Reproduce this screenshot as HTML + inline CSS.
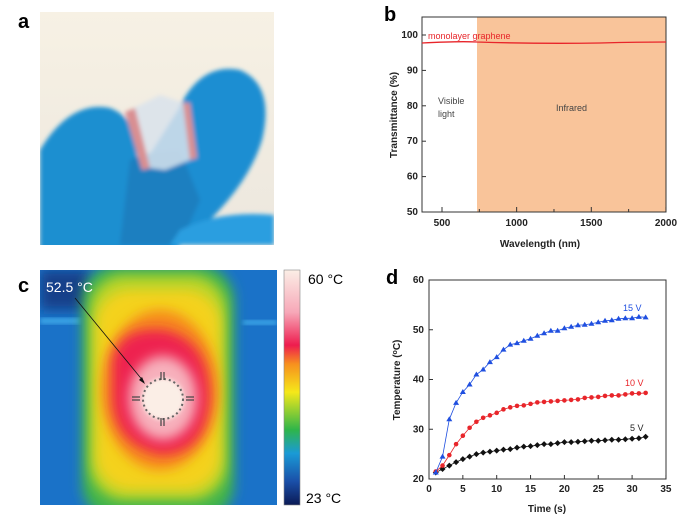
<!DOCTYPE html>
<html><head><meta charset="utf-8"><style>
html,body{margin:0;padding:0;background:#fff;width:688px;height:527px;overflow:hidden}
svg{display:block;font-family:"Liberation Sans",Arial,sans-serif}
</style></head><body>
<svg id="s" width="688" height="527" viewBox="0 0 688 527" xmlns="http://www.w3.org/2000/svg">
<defs>
<filter id="bl" x="-20%" y="-20%" width="140%" height="140%"><feGaussianBlur stdDeviation="6"/></filter>
<filter id="bl2"><feGaussianBlur stdDeviation="2"/></filter>
<clipPath id="ca"><rect x="40" y="12" width="234" height="233"/></clipPath>
<clipPath id="cc"><rect x="40" y="270" width="237" height="235"/></clipPath>
<linearGradient id="cb" x1="0" y1="0" x2="0" y2="1">
<stop offset="0" stop-color="#fbeee6"/><stop offset="0.18" stop-color="#f7a8b8"/><stop offset="0.32" stop-color="#ee1c4e"/>
<stop offset="0.4" stop-color="#f7901e"/><stop offset="0.52" stop-color="#f5e81a"/><stop offset="0.68" stop-color="#2fb54a"/>
<stop offset="0.78" stop-color="#1a9ad6"/><stop offset="0.9" stop-color="#1a4fa8"/><stop offset="1" stop-color="#0b1a55"/></linearGradient>
<linearGradient id="bg" x1="0" y1="0" x2="0" y2="1"><stop offset="0" stop-color="#f7f1e4"/><stop offset="1" stop-color="#ece7de"/></linearGradient>
</defs>
<text x="18" y="28" font-size="20" font-weight="bold">a</text>
<text x="18" y="292" font-size="20" font-weight="bold">c</text>
<text x="384" y="21" font-size="20" font-weight="bold">b</text>
<text x="386" y="284" font-size="20" font-weight="bold">d</text>
<g clip-path="url(#ca)">
<rect x="40" y="12" width="234" height="233" fill="url(#bg)"/>
<g filter="url(#bl2)">
<path d="M40 150 Q70 100 110 108 Q130 115 135 140 L150 250 L40 250 Z" fill="#1f8fd0"/>
<path d="M178 110 Q200 62 240 70 Q275 85 262 140 Q250 180 210 220 L175 250 L120 250 L140 170 Z" fill="#1b8ed2"/>
<path d="M130 160 Q150 150 180 150 L200 200 L180 245 L120 245 Z" fill="#1a7fc0"/>
<path d="M180 230 Q220 210 274 215 L274 245 L170 245 Z" fill="#2a9ee0"/>
<path d="M130 110 L160 95 L190 105 L195 158 L165 170 L150 168 Z" fill="#d9e3ec" opacity="0.85"/>
<path d="M125 112 L135 108 L150 168 L142 170 Z" fill="#d98f92"/>
<path d="M183 103 L190 103 L197 158 L190 160 Z" fill="#d98f92"/>
</g>
</g>
<g clip-path="url(#cc)">
<rect x="40" y="270" width="237" height="235" fill="#1a72c8"/>
<rect x="40" y="270" width="50" height="40" fill="#123f8a" filter="url(#bl)"/>
<rect x="40" y="318" width="40" height="6" fill="#3aa4e6" filter="url(#bl2)"/>
<rect x="243" y="320" width="34" height="5" fill="#3aa4e6" filter="url(#bl2)"/>
<rect x="82" y="265" width="152" height="255" rx="35" fill="#3fb44c" filter="url(#bl)"/>
<rect x="90" y="275" width="136" height="225" rx="35" fill="#b8d42a" filter="url(#bl)"/>
<rect x="96" y="290" width="124" height="200" rx="35" fill="#f4d21a" filter="url(#bl)"/>
<ellipse cx="160" cy="390" rx="58" ry="80" fill="#f68a1e" filter="url(#bl)"/>
<path d="M112 360 Q120 325 165 330 Q210 340 210 400 Q205 455 160 455 Q115 445 112 400 Z" fill="#ee2450" filter="url(#bl)"/>
<ellipse cx="163" cy="398" rx="34" ry="42" fill="#f7b0bc" filter="url(#bl)"/>
<circle cx="163" cy="399" r="21" fill="#fbeee6" filter="url(#bl2)"/>
<circle cx="163" cy="399" r="20" fill="none" stroke="#666" stroke-width="2" stroke-dasharray="2 3"/>
<g stroke="#444" stroke-width="1.2"><line x1="161" y1="372" x2="161" y2="380"/><line x1="164" y1="372" x2="164" y2="380"/><line x1="161" y1="418" x2="161" y2="426"/><line x1="164" y1="418" x2="164" y2="426"/><line x1="132" y1="397" x2="140" y2="397"/><line x1="132" y1="400" x2="140" y2="400"/><line x1="186" y1="397" x2="194" y2="397"/><line x1="186" y1="400" x2="194" y2="400"/></g>
<line x1="75" y1="298" x2="144" y2="382" stroke="#111" stroke-width="0.8"/>
<path d="M145 384 L139 380 L142 377 Z" fill="#111"/>
<text x="46" y="292" font-size="14" fill="#fff">52.5 °C</text>
</g>
<rect x="284" y="270" width="16" height="235" fill="url(#cb)" stroke="#888" stroke-width="0.6"/>
<text x="308" y="284" font-size="14">60 °C</text>
<text x="306" y="503" font-size="14">23 °C</text>
<rect x="477" y="17" width="189" height="195" fill="#f9c49a"/>
<rect x="422" y="17" width="244" height="195" fill="none" stroke="#333" stroke-width="1"/>
<path d="M422 43 Q460 41 477 42 Q540 44 600 43 Q640 42 666 42" fill="none" stroke="#e8252a" stroke-width="1.3"/>
<text x="428" y="39" font-size="9" fill="#e8252a">monolayer graphene</text>
<text x="438" y="104" font-size="9" fill="#444">Visible</text>
<text x="438" y="117" font-size="9" fill="#444">light</text>
<text x="556" y="111" font-size="9" fill="#444">Infrared</text>
<g id="bax" font-size="10" font-weight="bold" fill="#222"></g>
<text x="540" y="247" font-size="10" font-weight="bold" text-anchor="middle" fill="#222">Wavelength (nm)</text>
<text transform="translate(397,115) rotate(-90)" font-size="10" font-weight="bold" text-anchor="middle" fill="#222">Transmittance (%)</text>
<rect x="429" y="280" width="237" height="199" fill="none" stroke="#333" stroke-width="1"/>
<g id="dax" font-size="10" font-weight="bold" fill="#222"></g>
<g id="dser"></g>
<text x="623" y="311" font-size="9" fill="#1f4fe0">15 V</text>
<text x="625" y="386" font-size="9" fill="#e8252a">10 V</text>
<text x="630" y="431" font-size="9" fill="#222">5 V</text>
<text x="547" y="512" font-size="10" font-weight="bold" text-anchor="middle" fill="#222">Time (s)</text>
<text transform="translate(400,380) rotate(-90)" font-size="10" font-weight="bold" text-anchor="middle" fill="#222">Temperature (<tspan font-size="7" dy="-3">o</tspan><tspan dy="3">C)</tspan></text>
</svg>
<script>
var NS="http://www.w3.org/2000/svg";
function el(p,t,a,txt){var e=document.createElementNS(NS,t);for(var k in a)e.setAttribute(k,a[k]);if(txt!=null)e.textContent=txt;p.appendChild(e);return e;}
var b=document.getElementById('bax');
for(var v=50;v<=100;v+=10){var y=212-(v-50)*3.54;el(b,'line',{x1:422,x2:426,y1:y,y2:y,stroke:'#333'});el(b,'text',{x:418,y:y+3,'text-anchor':'end'},v);}
for(var v=500;v<=2000;v+=250){var x=442+(v-500)*0.1493;el(b,'line',{x1:x,x2:x,y1:212,y2:v%500?209:207,stroke:'#333'});if(v%500==0)el(b,'text',{x:x,y:226,'text-anchor':'middle'},v);}
var d=document.getElementById('dax');
function X(t){return 429+t*6.77}function Y(v){return 479-(v-20)*4.975}
for(var v=20;v<=60;v+=10){var y=Y(v);el(d,'line',{x1:429,x2:433,y1:y,y2:y,stroke:'#333'});el(d,'text',{x:424,y:y+3,'text-anchor':'end'},v);}
for(var t=0;t<=35;t+=5){var x=X(t);el(d,'line',{x1:x,x2:x,y1:479,y2:475,stroke:'#333'});el(d,'text',{x:x,y:492,'text-anchor':'middle'},t);}
var s15=[21.3,24.5,32,35.3,37.5,39,41,42,43.5,44.5,46,47,47.3,47.8,48.2,48.8,49.3,49.8,49.8,50.3,50.6,50.9,51,51.2,51.5,51.8,51.9,52.2,52.3,52.3,52.6,52.5];
var s10=[21.5,22.7,24.8,27,28.7,30.3,31.5,32.3,32.8,33.3,34,34.4,34.7,34.8,35.1,35.4,35.5,35.6,35.7,35.8,35.9,36,36.3,36.4,36.5,36.7,36.8,36.8,37,37.2,37.2,37.3];
var s5=[21.3,22,22.7,23.4,24,24.5,25,25.3,25.5,25.7,25.9,26,26.3,26.5,26.6,26.8,27,27,27.2,27.4,27.4,27.5,27.6,27.7,27.7,27.8,27.9,27.9,28,28.1,28.2,28.5];
var g=document.getElementById('dser');
function ser(a,c,m){var p=a.map(function(v,i){return X(i+1)+','+Y(v)}).join(' ');el(g,'polyline',{points:p,fill:'none',stroke:c,'stroke-width':0.8});
a.forEach(function(v,i){var x=X(i+1),y=Y(v);if(m=='t')el(g,'path',{d:'M'+x+' '+(y-3)+'L'+(x+3)+' '+(y+2)+'L'+(x-3)+' '+(y+2)+'Z',fill:c});else if(m=='c')el(g,'circle',{cx:x,cy:y,r:2.3,fill:c});else el(g,'path',{d:'M'+x+' '+(y-3)+'L'+(x+3)+' '+y+'L'+x+' '+(y+3)+'L'+(x-3)+' '+y+'Z',fill:c});});}
ser(s5,'#111','d');ser(s10,'#e8252a','c');ser(s15,'#1f4fe0','t');
</script>
</body></html>
